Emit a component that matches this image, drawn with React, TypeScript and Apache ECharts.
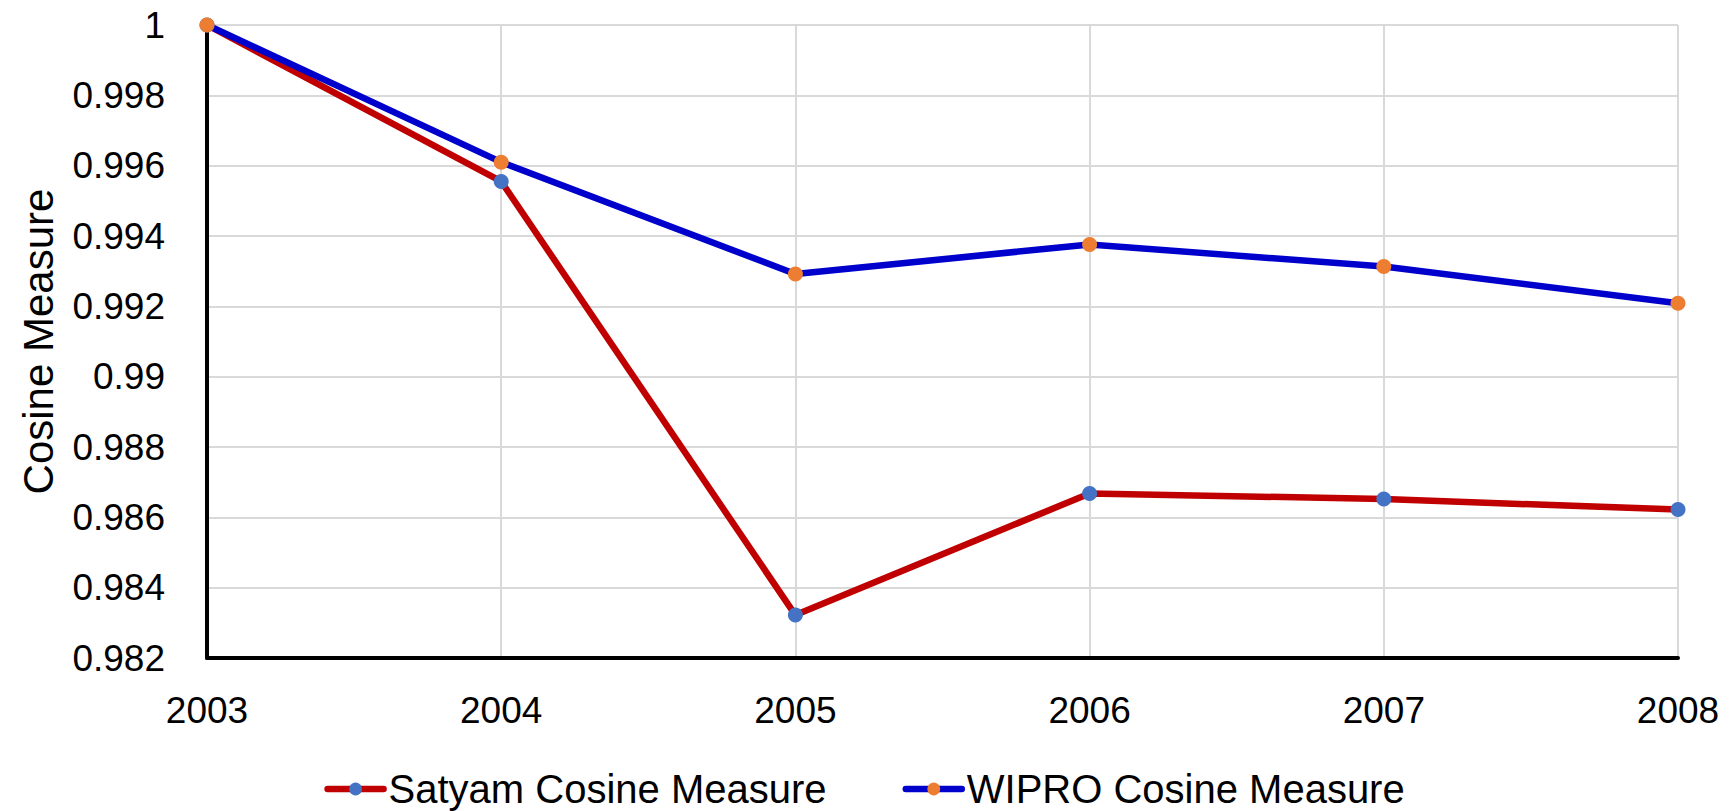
import React, { useEffect, useRef } from "react";
import * as echarts from "echarts";

const years = ["2003", "2004", "2005", "2006", "2007", "2008"];
const satyam = [1.0, 0.99555, 0.98322, 0.98668, 0.98652, 0.98622];
const wipro = [1.0, 0.9961, 0.99292, 0.99376, 0.99313, 0.99209];
const seriesNames = ["Satyam Cosine Measure", "WIPRO Cosine Measure"];
const yTitle = "Cosine Measure";

const FONT = "'Liberation Sans', Arial, sans-serif";

export default function App() {
  const ref = useRef<HTMLDivElement>(null);
  useEffect(() => {
    if (!ref.current) return;
    const chart = echarts.init(ref.current, undefined, { renderer: "svg" });
    chart.setOption({
      animation: false,
      backgroundColor: "#ffffff",
      textStyle: { fontFamily: FONT },
      grid: { left: 207, right: 51, top: 25, bottom: 153, containLabel: false },
      legend: {
        show: true,
        left: "center",
        top: 764,
        itemWidth: 56,
        itemHeight: 16,
        itemGap: 76,
        lineStyle: { width: 6.5, cap: "round" },
        textStyle: { fontFamily: FONT, fontSize: 40, color: "#000000", lineHeight: 40 },
        data: seriesNames,
      },
      xAxis: {
        type: "category",
        data: years,
        boundaryGap: false,
        axisLine: { show: true, lineStyle: { color: "#000000", width: 4 } },
        axisTick: { show: false },
        axisLabel: { fontFamily: FONT, fontSize: 37, color: "#000000", margin: 34 },
        splitLine: { show: true, lineStyle: { color: "#d9d9d9", width: 2 } },
      },
      yAxis: {
        type: "value",
        min: 0.982,
        max: 1,
        interval: 0.002,
        name: yTitle,
        nameLocation: "middle",
        nameGap: 148,
        nameTextStyle: { fontFamily: FONT, fontSize: 42, color: "#000000" },
        axisLine: { show: true, lineStyle: { color: "#000000", width: 4 } },
        axisTick: { show: false },
        axisLabel: {
          fontFamily: FONT,
          fontSize: 37,
          color: "#000000",
          margin: 42,
          formatter: (v: number) => String(parseFloat(v.toFixed(3))),
        },
        splitLine: { show: true, lineStyle: { color: "#d9d9d9", width: 2 } },
      },
      series: [
        {
          name: seriesNames[0],
          type: "line",
          data: satyam,
          symbol: "circle",
          symbolSize: 15,
          showSymbol: true,
          lineStyle: { color: "#C00000", width: 6.5 },
          itemStyle: { color: "#4472C4", borderWidth: 0 },
        },
        {
          name: seriesNames[1],
          type: "line",
          data: wipro,
          symbol: "circle",
          symbolSize: 15,
          showSymbol: true,
          lineStyle: { color: "#0000CC", width: 6.5 },
          itemStyle: { color: "#ED7D31", borderWidth: 0 },
        },
      ],
    });
    return () => chart.dispose();
  }, []);
  return (
    <div
      ref={ref}
      style={{ position: "fixed", left: 0, top: 0, width: 1729, height: 811, background: "#fff" }}
    />
  );
}
